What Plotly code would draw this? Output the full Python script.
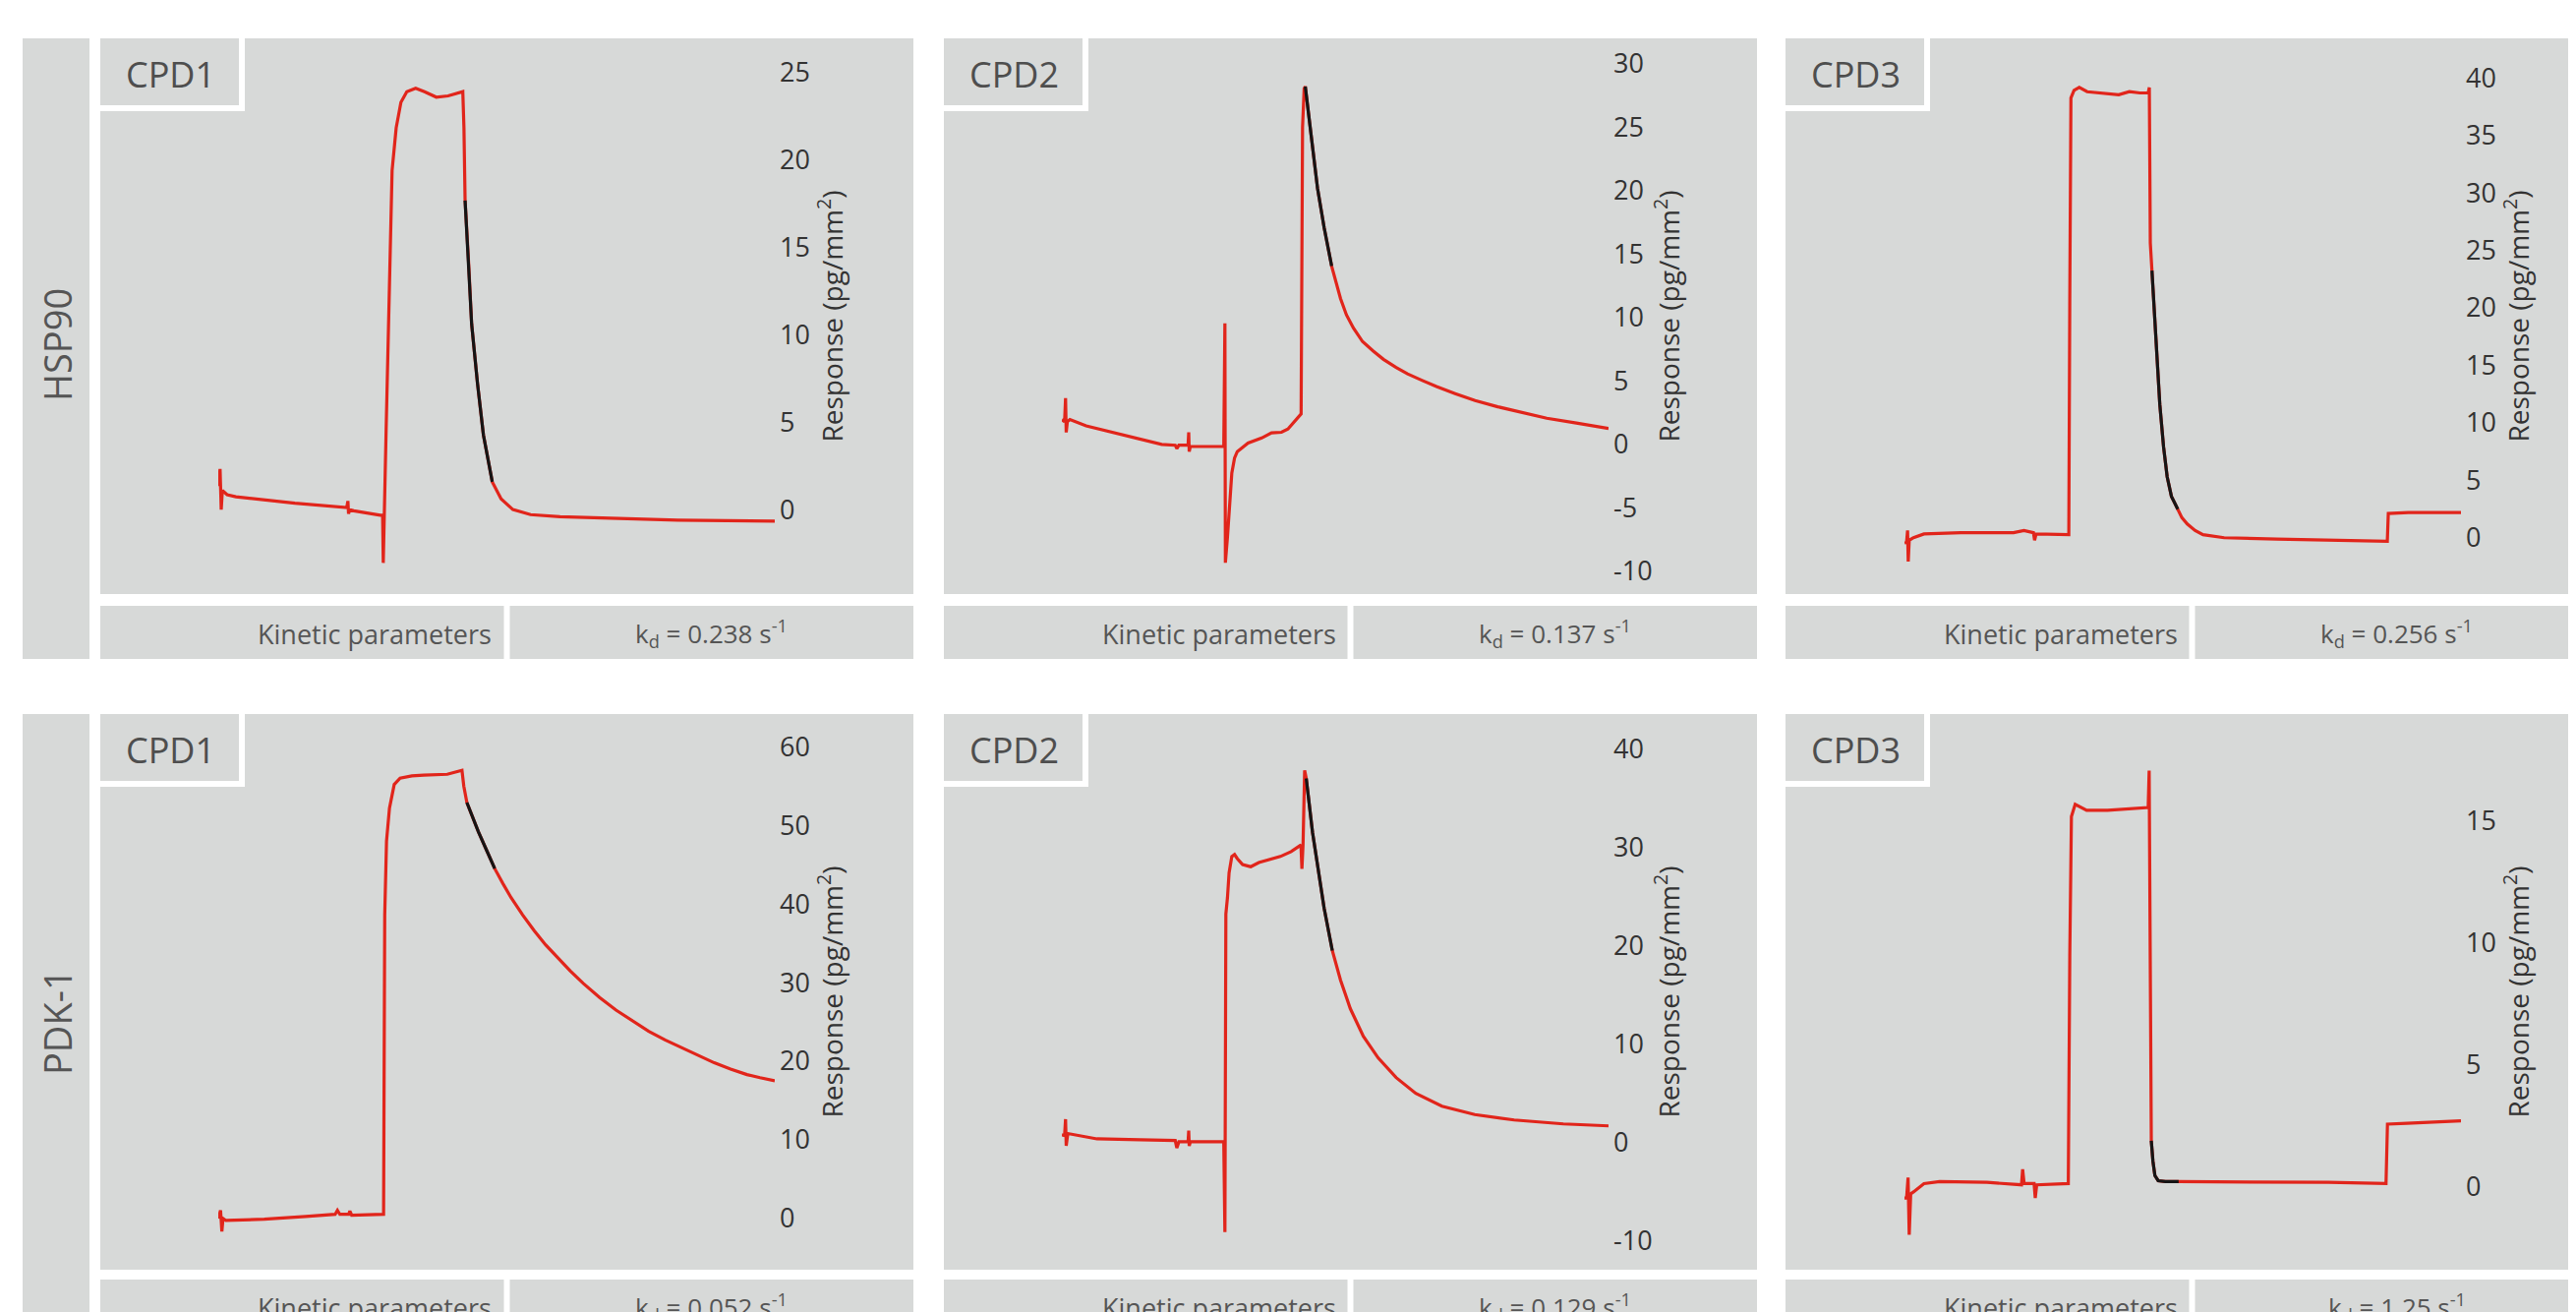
import plotly.graph_objects as go

# page is 2620x1334; the html body has an 8px default margin, so the figure is drawn 8px in
PAGE_W, PAGE_H = 2620, 1334
OFF = 8
W, H = PAGE_W - OFF, PAGE_H - OFF

targets = ["HSP90", "PDK-1"]
compounds = ["CPD1", "CPD2", "CPD3"]
kd_values = [["0.238", "0.137", "0.256"], ["0.052", "0.129", "1.25"]]

# ---------------- HSP90 ----------------
hsp90_cpd1_t = [0, 1.1, 1.8, 2.5, 5.4, 10.8, 46.8, 75.6, 78.5, 79.2, 79.6, 80.3, 82.8, 99, 100.4, 100.8,
                101.5, 102.6, 104.4, 106.2, 108.7, 111.6, 115.2, 120.6, 126, 133.2, 140.4, 149.4, 150.1,
                150.8, 153, 154.8, 158.4, 162, 167.4, 172.8, 180, 190.8, 208.8, 244.8, 280.8, 340]
hsp90_cpd1_r = [1.34, 2.32, 0.0, 1.1, 0.85, 0.73, 0.37, 0.12, 0.12, 0.49, -0.24, 0, -0.07, -0.32, -0.32, -3.05,
                1.1, 4.76, 12.07, 19.39, 21.83, 23.29, 23.9, 24.1, 23.9, 23.59, 23.66, 23.9, 21.83,
                17.68, 14.02, 10.61, 7.2, 4.27, 1.59, 0.61, 0, -0.29, -0.41, -0.49, -0.61, -0.66]
hsp90_cpd1_fit_t = [150.8, 153, 154.8, 158.4, 162, 167.4]
hsp90_cpd1_fit_r = [17.68, 14.02, 10.61, 7.2, 4.27, 1.59]

hsp90_cpd2_t = [0, 1.7, 2.3, 2.7, 3.4, 5.0, 15.1, 31.9, 48.7, 62.1, 70.5, 71.5, 72.8, 78.5, 78.9, 79.2, 79.9,
                100.7, 101.4, 101.7, 103, 104.4, 105.7, 107.4, 109.1, 115.8, 124.3, 130.4, 136.6, 140.6,
                144.7, 148.8, 149.7, 150.7, 151.4, 152.9, 155.9, 159, 163.1, 167.8, 173.3, 177, 181.4, 187,
                193.7, 200, 207.9, 215, 224.2, 233, 244.6, 257, 271.1, 286, 301.6, 320, 340]
hsp90_cpd2_r = [1.95, 1.78, 3.64, 0.94, 1.78, 1.95, 1.45, 0.94, 0.44, 0, -0.07, -0.34, -0.07, -0.07, 0.94, -0.57,
                -0.17, -0.17, 9.53, -9.33, -7.3, -4.61, -2.26, -1.08, -0.57, 0.1, 0.5, 0.9, 0.95, 1.2,
                1.8, 2.4, 25.0, 28.05, 28.2, 26.7, 23.3, 20.2, 17.1, 14.05, 11.5, 10.2, 9.15, 8.1,
                7.35, 6.7, 6.06, 5.55, 5.03, 4.55, 4.0, 3.45, 2.96, 2.5, 2.06, 1.68, 1.25]
hsp90_cpd2_fit_t = [151.4, 152.9, 155.9, 159, 163.1, 167.8]
hsp90_cpd2_fit_r = [28.2, 26.7, 23.3, 20.2, 17.1, 14.05]

hsp90_cpd3_t = [0, 1.3, 1.9, 2.3, 2.9, 5.5, 11.9, 34.4, 66.6, 73, 78.8, 79.5, 80.4, 100.4, 101, 101.7, 103.6,
                106.8, 111.6, 121.3, 130.9, 137.4, 143.8, 148.9, 149.6, 150.2, 151.2, 152.5, 154.1, 156.0,
                158.3, 160.5, 163.1, 167.0, 169.5, 172.8, 177.6, 182.4, 195.3, 227.4, 259.6, 290.2, 295,
                295.6, 307.9, 340]
hsp90_cpd3_r = [-0.48, -0.37, 0.63, -2.08, -0.22, 0, 0.33, 0.44, 0.44, 0.63, 0.44, -0.22, 0.33, 0.26, 20.8,
                38.26, 38.92, 39.18, 38.81, 38.7, 38.55, 38.81, 38.7, 38.7, 39.18, 25.65, 23.24, 20.1, 16.0,
                11.6, 7.9, 5.3, 3.6, 2.48, 1.74, 1.19, 0.63, 0.26, 0, -0.11, -0.22, -0.3, -0.3, 2.11, 2.19, 2.19]
hsp90_cpd3_fit_t = [151.2, 152.5, 154.1, 156.0, 158.3, 160.5, 163.1, 167.0]
hsp90_cpd3_fit_r = [23.24, 20.1, 16.0, 11.6, 7.9, 5.3, 3.6, 2.48]

# ---------------- PDK-1 ----------------
pdk1_cpd1_t = [0, 1.4, 2.2, 2.9, 4.7, 28.1, 53.4, 71.4, 72.8, 74.3, 79.7, 80.4, 81.5, 98.4, 101, 101.7, 102.8,
               104.6, 107.5, 111.1, 118.3, 125.5, 139.9, 148.9, 150, 151.9, 155, 158.9, 164, 168.9,
               173.9, 178.9, 186, 193, 200, 207, 215, 223, 233, 243, 253, 263, 273, 283, 293,
               303, 313, 323, 331, 340]
pdk1_cpd1_r = [0, 1.04, -1.67, 0, -0.26, -0.1, 0.26, 0.52, 1.04, 0.52, 0.52, 0.94, 0.42, 0.42, 0.52, 38.6, 48.0,
               52.2, 55.2, 56.0, 56.3, 56.4, 56.5, 57.0, 55.0, 52.9, 51.2, 49.2, 46.8, 44.5,
               42.6, 40.8, 38.6, 36.6, 34.8, 33.2, 31.5, 29.9, 28.1, 26.5, 25.1, 23.8, 22.7, 21.7, 20.7,
               19.8, 19.0, 18.3, 17.9, 17.5]
pdk1_cpd1_fit_t = [151.9, 155, 158.9, 164, 168.9]
pdk1_cpd1_fit_r = [52.9, 51.2, 49.2, 46.8, 44.5]

pdk1_cpd2_t = [0, 1.7, 2.3, 2.7, 3.7, 6.7, 21.8, 48.7, 70.5, 71.5, 72.8, 78.5, 78.9, 79.2, 79.9, 100.7, 101.4,
               102, 103, 104, 105.7, 107.4, 109.1, 112.4, 117.5, 122.5, 135.9, 142.6, 148.7, 149.3, 150,
               151, 152, 155.9, 159, 163.1, 168.2, 173.3, 179.4, 187.5, 196.7, 207.9, 220.1, 236.4, 256.8,
               281.3, 311.9, 340]
pdk1_cpd2_r = [0.79, 0.71, 2.38, -0.33, 0.92, 0.83, 0.38, 0.29, 0.21, -0.54, 0.08, 0.08, 1.21, -0.33, 0.08, 0.08,
               -9.08, 23.2, 24.88, 27.38, 29.04, 29.25, 28.83, 28.21, 28.0, 28.42, 29.04, 29.54, 30.21, 27.79,
               30.21, 37.79, 36.96, 31.5, 28.2, 23.8, 19.5, 16.5, 13.6, 10.8, 8.6, 6.6, 5.0, 3.7, 2.85,
               2.3, 1.9, 1.7]
pdk1_cpd2_fit_t = [152, 155.9, 159, 163.1, 168.2]
pdk1_cpd2_fit_r = [36.96, 31.5, 28.2, 23.8, 19.5]

pdk1_cpd3_t = [0, 1.3, 2.2, 2.9, 3.8, 5.5, 11.9, 21.5, 50.4, 68, 71.5, 72.2, 73.1, 79.2, 79.9, 80.8, 100.1, 101,
               102, 104.3, 106.5, 111.3, 124.1, 137, 148.9, 149.5, 150.1, 150.8, 151.8, 153, 155, 159.4, 167.5,
               194.7, 226.8, 258.9, 294.2, 295.1, 307, 323, 340]
pdk1_cpd3_r = [-0.47, -0.47, 0.37, -1.98, -0.3, -0.22, 0.12, 0.2, 0.17, 0.07, 0.07, 0.71, 0.12, 0.12, -0.47, 0.07,
               0.12, 9.45, 15.17, 15.67, 15.59, 15.42, 15.42, 15.47, 15.54, 17.05, 9.45, 1.88, 1.04, 0.45, 0.24,
               0.2, 0.2, 0.2, 0.2, 0.17, 0.12, 2.56, 2.59, 2.64, 2.69]
pdk1_cpd3_fit_t = [150.8, 151.8, 153, 155, 159.4, 167.5]
pdk1_cpd3_fit_r = [1.88, 1.04, 0.45, 0.24, 0.2, 0.2]

# y axis tick values and ranges
hsp90_ticks = [[0, 5, 10, 15, 20, 25], [-10, -5, 0, 5, 10, 15, 20, 25, 30], [0, 5, 10, 15, 20, 25, 30, 35, 40]]
pdk1_ticks = [[0, 10, 20, 30, 40, 50, 60], [-10, 0, 10, 20, 30, 40], [0, 5, 10, 15]]
hsp90_ranges = [[-4.83, 26.95], [-11.8, 32.0], [-4.9, 43.45]]
pdk1_ranges = [[-6.52, 64.16], [-12.9, 43.5], [-3.41, 19.37]]

series = [
    [(hsp90_cpd1_t, hsp90_cpd1_r, hsp90_cpd1_fit_t, hsp90_cpd1_fit_r),
     (hsp90_cpd2_t, hsp90_cpd2_r, hsp90_cpd2_fit_t, hsp90_cpd2_fit_r),
     (hsp90_cpd3_t, hsp90_cpd3_r, hsp90_cpd3_fit_t, hsp90_cpd3_fit_r)],
    [(pdk1_cpd1_t, pdk1_cpd1_r, pdk1_cpd1_fit_t, pdk1_cpd1_fit_r),
     (pdk1_cpd2_t, pdk1_cpd2_r, pdk1_cpd2_fit_t, pdk1_cpd2_fit_r),
     (pdk1_cpd3_t, pdk1_cpd3_r, pdk1_cpd3_fit_t, pdk1_cpd3_fit_r)],
]
ticks = [hsp90_ticks, pdk1_ticks]
ranges = [hsp90_ranges, pdk1_ranges]

# ---------------- styling / layout ----------------
GRAY = "#d7d9d8"
RED = "#e1251b"
BLACK = "#151515"
TXT = "#555555"
TICK = "#333333"
FONT = "Open Sans"

# positions in page pixels
rows = [dict(pt=39, pb=604, kt=616, kb=670, label_y=350),
        dict(pt=726, pb=1291, kt=1301, kb=1360, label_y=1039)]
col_x0 = [102, 960, 1816]
PANEL_W = 827
trace_dom = [(222, 788), (1080, 1636), (1937, 2503)]


def fx(v):
    return (v - OFF) / W


def fy(v):
    return 1 - (v - OFF) / H


fig = go.Figure()
shapes = []
annotations = []


def rect(x0, y0, x1, y1, color):
    shapes.append(dict(type="rect", xref="paper", yref="paper",
                       x0=fx(x0), x1=fx(x1), y0=fy(y1), y1=fy(y0),
                       fillcolor=color, line=dict(width=0), layer="below"))


def label(text, x, y, size, color=TXT, xanchor="center", angle=0):
    annotations.append(dict(text=text, x=fx(x), y=fy(y), xref="paper", yref="paper",
                            xanchor=xanchor, yanchor="middle", showarrow=False, textangle=angle,
                            font=dict(family=FONT, size=size, color=color)))


layout_axes = {}
idx = 0
for ri, row in enumerate(rows):
    pt, pb, kt, kb = row["pt"], row["pb"], row["kt"], row["kb"]
    rect(23, pt, 91, kb, GRAY)
    label(targets[ri], 58, row["label_y"], 38, angle=-90)
    for ci in range(3):
        idx += 1
        x0 = col_x0[ci]
        x1 = x0 + PANEL_W
        half = PANEL_W / 2
        rect(x0, pt, x1, pb, GRAY)
        rect(x0, pt, x0 + 147, pt + 74, "white")
        rect(x0, pt, x0 + 141, pt + 68, GRAY)
        label(compounds[ci], x0 + 71, pt + 36, 36, color="#4e4e4e")
        rect(x0, kt, x0 + half - 3, kb, GRAY)
        rect(x0 + half + 3, kt, x1, kb, GRAY)
        label("Kinetic parameters", x0 + half - 13, kt + 28, 27, xanchor="right")
        label("k<sub>d</sub> = %s s<sup>-1</sup>" % kd_values[ri][ci], x0 + half + 3 + (half - 3) / 2,
              kt + 28, 26)

        t, r, ft, fr = series[ri][ci]
        xa = "x" if idx == 1 else "x%d" % idx
        ya = "y" if idx == 1 else "y%d" % idx
        fig.add_trace(go.Scatter(x=t, y=r, mode="lines", line=dict(color=RED, width=3.2),
                                 xaxis=xa, yaxis=ya, showlegend=False, hoverinfo="skip"))
        fig.add_trace(go.Scatter(x=ft, y=fr, mode="lines", line=dict(color=BLACK, width=3.2),
                                 xaxis=xa, yaxis=ya, showlegend=False, hoverinfo="skip"))
        tx0, tx1 = trace_dom[ci]
        key = "" if idx == 1 else str(idx)
        layout_axes["xaxis" + key] = dict(domain=[fx(tx0), fx(tx1)], range=[0, 340], visible=False,
                                          anchor=ya, fixedrange=True)
        tv = ticks[ri][ci]
        layout_axes["yaxis" + key] = dict(
            domain=[fy(pb), fy(pt)], range=ranges[ri][ci], anchor=xa, side="right",
            tickvals=tv, ticktext=[str(v) for v in tv], showgrid=False, zeroline=False,
            showline=False, ticks="", ticklabelstandoff=4,
            tickfont=dict(family=FONT, size=27, color=TICK),
            title=dict(text="Response (pg/mm<sup>2</sup>)", standoff=8,
                       font=dict(family=FONT, size=28, color=TICK)),
            fixedrange=True)

fig.update_layout(
    width=W, height=H, autosize=False,
    margin=dict(l=0, r=0, t=0, b=0, pad=0),
    paper_bgcolor="white", plot_bgcolor="rgba(0,0,0,0)",
    shapes=shapes, annotations=annotations, showlegend=False,
    font=dict(family=FONT),
    **layout_axes,
)

fig.write_html("out.html")
